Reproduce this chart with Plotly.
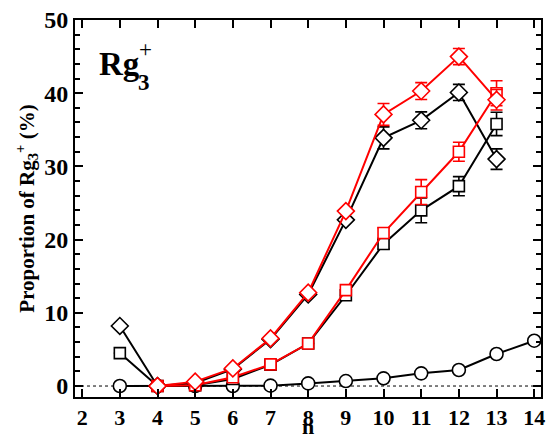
import plotly.graph_objects as go

n_all = [3, 4, 5, 6, 7, 8, 9, 10, 11, 12, 13, 14]
n_b = [3, 4, 5, 6, 7, 8, 9, 10, 11, 12, 13]
n_r = [4, 5, 6, 7, 8, 9, 10, 11, 12, 13]

circle_black = [0.0, 0.0, 0.0, 0.0, 0.05, 0.36, 0.68, 1.05, 1.73, 2.19, 4.37, 6.19]

square_black = [4.5, 0.0, 0.1, 0.96, 2.9, 5.8, 12.4, 19.4, 24.0, 27.3, 35.8]
square_black_err = [0, 0, 0, 0, 0, 0, 0, 0.7, 1.7, 1.3, 1.6]

diamond_black = [8.2, 0.0, 0.4, 2.3, 6.4, 12.5, 22.7, 33.9, 36.3, 40.1, 31.0]
diamond_black_err = [0, 0, 0, 0, 0, 0, 0, 1.5, 1.15, 1.1, 1.4]

square_red = [0.0, 0.1, 1.2, 2.96, 5.8, 13.1, 20.9, 26.5, 32.0, 40.0]
square_red_err = [0, 0, 0, 0, 0, 0, 0.7, 1.7, 1.3, 1.7]

diamond_red = [0.0, 0.6, 2.4, 6.5, 12.75, 23.9, 37.1, 40.3, 45.0, 39.1]
diamond_red_err = [0, 0, 0, 0, 0, 0, 1.5, 1.15, 1.1, 1.4]

x_ticks = list(range(2, 15))
y_ticks = [0, 10, 20, 30, 40, 50]

font_fam = "Liberation Serif"

fig = go.Figure()


def add(x, y, err, color, symbol, size):
    kw = {}
    if err is not None:
        kw["error_y"] = dict(type="data", array=err, visible=True, color=color,
                             thickness=1.6, width=6)
    fig.add_trace(go.Scatter(
        x=x, y=y, mode="lines+markers",
        line=dict(color=color, width=2),
        marker=dict(symbol=symbol, size=size, color="white",
                    line=dict(color=color, width=1.6)),
        showlegend=False, **kw))


add(n_all, circle_black, None, "black", "circle", 13)
add(n_b, square_black, square_black_err, "black", "square", 11)
add(n_b, diamond_black, diamond_black_err, "black", "diamond", 13)
add(n_r, square_red, square_red_err, "red", "square", 11)
add(n_r, diamond_red, diamond_red_err, "red", "diamond", 13)

fig.add_shape(type="line", xref="paper", x0=0, x1=1, yref="y", y0=0, y1=0,
              line=dict(color="black", width=1, dash="dot"), layer="below")

axis_common = dict(
    showline=True, linecolor="black", linewidth=2, mirror="allticks",
    ticks="inside", tickcolor="black", tickwidth=2, ticklen=8,
    showgrid=False, zeroline=False, automargin=False,
)

fig.update_xaxes(
    range=[1.81, 14.18], tickvals=x_ticks, ticktext=[f"<b>{v}</b>" for v in x_ticks],
    tickfont=dict(family=font_fam, size=22, color="black"),
    **axis_common)
fig.update_yaxes(
    range=[-1.5, 50], tickvals=y_ticks, ticktext=[f"<b>{v}</b>" for v in y_ticks],
    tickfont=dict(family=font_fam, size=24, color="black"),
    minor=dict(dtick=2, ticks="inside", ticklen=5, tickwidth=1.5, tickcolor="black"),
    title=dict(text="<b>Proportion of Rg<sub>3</sub><sup>+</sup> (%)</b>",
               font=dict(family=font_fam, size=21, color="black"), standoff=4),
    **axis_common)

# x-axis title placed as an annotation just under the tick labels
fig.add_annotation(xref="paper", yref="paper", x=0.5, y=-0.079, xanchor="center",
                   yanchor="middle", showarrow=False, text="<b>n</b>",
                   font=dict(family=font_fam, size=22, color="black"))

fig.add_annotation(xref="paper", yref="paper", x=0.047, y=0.884, xanchor="left",
                   yanchor="middle", showarrow=False, text="<b>Rg</b>",
                   font=dict(family=font_fam, size=33, color="black"))
fig.add_annotation(xref="paper", yref="paper", x=0.131, y=0.834, xanchor="left",
                   yanchor="middle", showarrow=False, text="<b>3</b>",
                   font=dict(family=font_fam, size=23, color="black"))
fig.add_annotation(xref="paper", yref="paper", x=0.152, y=0.923, xanchor="center",
                   yanchor="middle", showarrow=False, text="+",
                   font=dict(family=font_fam, size=23, color="black"))

fig.update_layout(
    width=547, height=434,
    margin=dict(l=75, r=6, t=20, b=37),
    plot_bgcolor="white", paper_bgcolor="white",
)

fig.write_html("out.html", config={"displayModeBar": False},
               post_script="document.body.style.margin='0';")
